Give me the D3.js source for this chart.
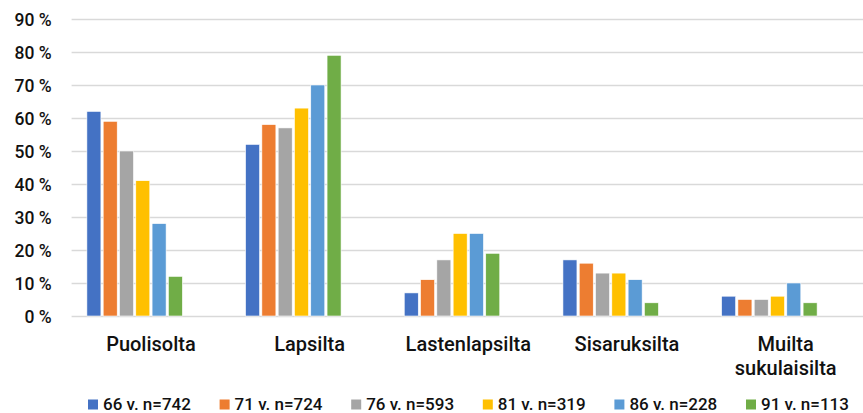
<!DOCTYPE html>
<html><head><meta charset="utf-8">
<script src="https://cdn.jsdelivr.net/npm/d3@7/dist/d3.min.js"></script>
<style>
html,body{margin:0;padding:0;background:#fff;overflow:hidden}
text{font-family:Roboto,"DejaVu Sans Condensed",sans-serif;fill:#111}
</style></head>
<body>
<svg id="chart" width="863" height="413"></svg>
<script>
const categories = ["Puolisolta", "Lapsilta", "Lastenlapsilta", "Sisaruksilta", "Muilta sukulaisilta"];
const seriesNames = ["66 v. n=742", "71 v. n=724", "76 v. n=593", "81 v. n=319", "86 v. n=228", "91 v. n=113"];
const s66 = [62, 52, 7, 17, 6];
const s71 = [59, 58, 11, 16, 5];
const s76 = [50, 57, 17, 13, 5];
const s81 = [41, 63, 25, 13, 6];
const s86 = [28, 70, 25, 11, 10];
const s91 = [12, 79, 19, 4, 4];
const seriesValues = [s66, s71, s76, s81, s86, s91];
const yTicks = [0, 10, 20, 30, 40, 50, 60, 70, 80, 90];
const colors = ["#4472C4", "#ED7D31", "#A5A5A5", "#FFC000", "#5B9BD5", "#70AD47"];
const slotCount = 8; // two empty slots after the six series

const svg = d3.select("#chart");
const plotL = 71.6, plotR = 865, plotT = 19, plotB = 316;

const x0 = d3.scaleBand().domain(categories).range([plotL, plotR]).paddingInner(0).paddingOuter(0);
const x1 = d3.scaleBand().domain(d3.range(slotCount)).range([0, x0.bandwidth()]).paddingInner(0.14).paddingOuter(0.938);
const y = d3.scaleLinear().domain([0, 90]).range([plotB, plotT]);

// gridlines
const yAxis = d3.axisLeft(y).tickValues(yTicks).tickSize(-(863 - plotL)).tickFormat(d => d + " %");
const gy = svg.append("g").attr("transform", `translate(${plotL},0)`).call(yAxis);
gy.select(".domain").remove();
gy.selectAll(".tick line").attr("stroke", "#d9d9d9").attr("stroke-width", 1.5);
gy.selectAll(".tick text").attr("x", -20).attr("font-size", 17.5).attr("font-weight", 500)
  .attr("font-family", "Roboto, sans-serif").attr("dy", "0.35em").style("fill","#111");

// bars
const groups = svg.append("g").selectAll("g").data(categories).join("g")
  .attr("transform", d => `translate(${x0(d)},0)`);
groups.selectAll("rect").data((c, ci) => seriesValues.map((vals, si) => ({si, v: vals[ci]})))
  .join("rect")
  .attr("x", d => x1(d.si))
  .attr("width", x1.bandwidth())
  .attr("y", d => y(d.v))
  .attr("height", d => y(0) - y(d.v))
  .attr("fill", d => colors[d.si])
  .attr("stroke", "#fff").attr("stroke-width", 0.6);

// x labels
const gx = svg.append("g");
categories.forEach(c => {
  const words = c === "Muilta sukulaisilta" ? ["Muilta", "sukulaisilta"] : [c];
  const t = gx.append("text").attr("text-anchor", "middle").attr("font-size", 20).attr("font-weight", 500)
    .attr("x", x0(c) + x0.bandwidth() / 2).attr("y", 351);
  words.forEach((w, i) => t.append("tspan").attr("x", x0(c) + x0.bandwidth() / 2).attr("dy", i ? 24 : 0).text(w));
});

// legend
const legX = d3.scaleLinear().domain([0, 1]).range([88, 219.6]);
const lg = svg.append("g").selectAll("g").data(seriesNames).join("g")
  .attr("transform", (d, i) => `translate(${legX(i)},0)`);
lg.append("rect").attr("x", 0).attr("y", 399.5).attr("width", 10).attr("height", 10).attr("fill", (d, i) => colors[i]);
lg.append("text").attr("x", 15).attr("y", 409.5).attr("font-size", 17).attr("font-weight", 500).text(d => d);
</script>
</body></html>
